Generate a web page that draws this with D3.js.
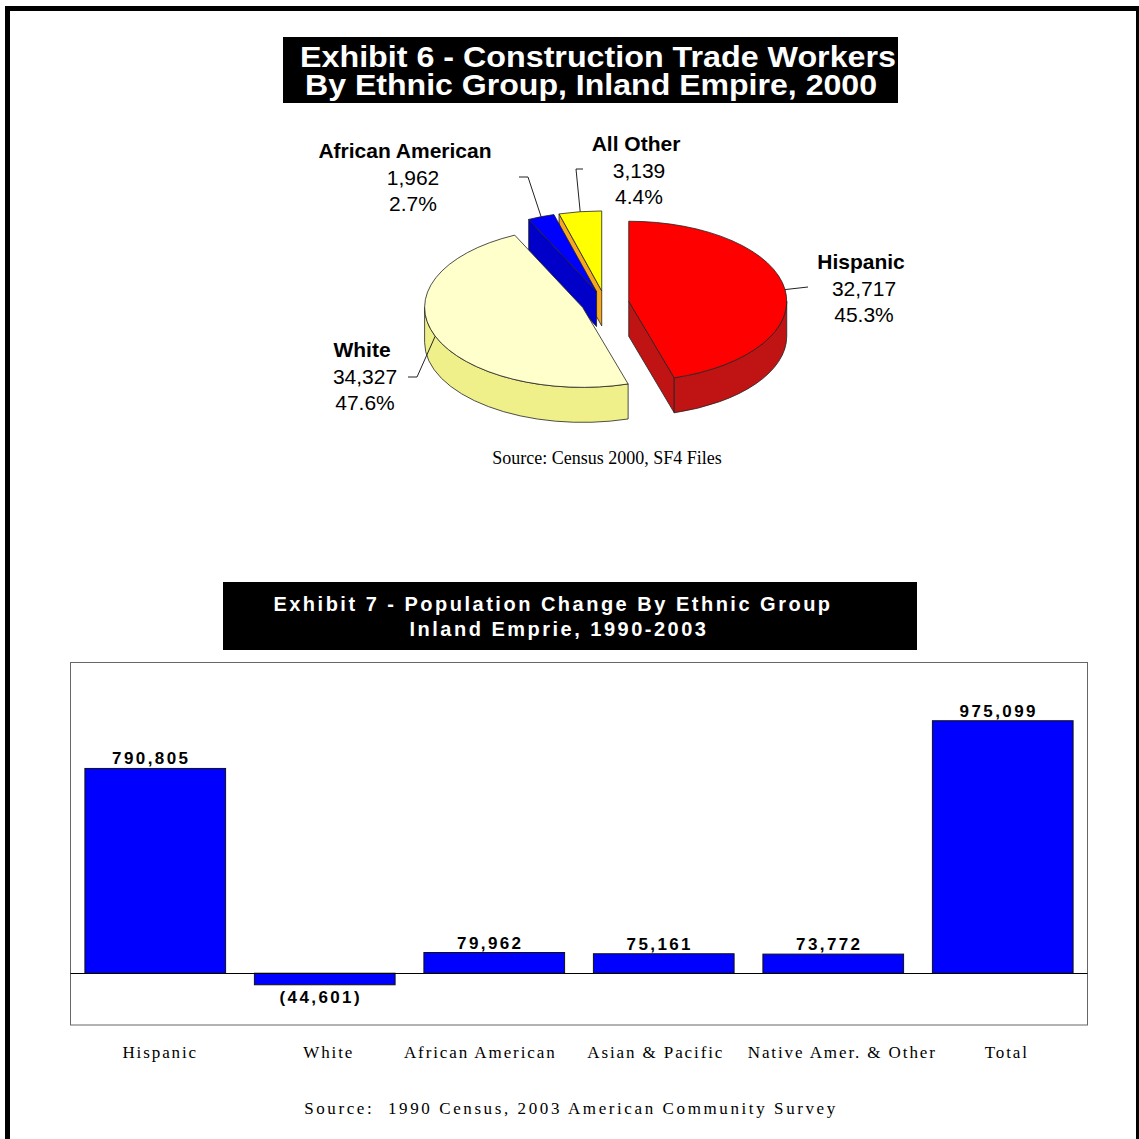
<!DOCTYPE html>
<html><head><meta charset="utf-8">
<script src="https://cdn.jsdelivr.net/npm/d3@7"></script>
<style>body{margin:0;background:#fff}svg{display:block}</style>
</head><body>
<script>
// ---------- DATA ----------
const pieCategories = ["Hispanic", "White", "African American", "All Other"];
const pieValues = [32717, 34327, 1962, 3139];
const barCategories = ["Hispanic", "White", "African American", "Asian & Pacific", "Native Amer. & Other", "Total"];
const barValues = [790805, -44601, 79962, 75161, 73772, 975099];
const barDomain = [-200000, 1200000];
const title1Lines = ["Exhibit 6 - Construction Trade Workers", "By Ethnic Group, Inland Empire, 2000"];
const title2Lines = ["Exhibit 7 - Population Change By Ethnic Group", "Inland Emprie, 1990-2003"];
const source1 = "Source: Census 2000, SF4 Files";
const source2 = "Source:  1990 Census, 2003 American Community Survey";

// ---------- STYLE / LAYOUT ----------
const topColors = {"Hispanic":"#FF0000","White":"#FFFFCC","African American":"#0000FF","All Other":"#FFFF00"};
const sideColors = {"Hispanic":"#C01414","White":"#F0F08A","African American":"#0000C8","All Other":"#F8A81C"};
const pieLabelLayout = {
  "Hispanic": {x:864, y:269, boldDx:-3, elbow:null, tail:[808,287]},
  "White": {x:365, y:357, boldDx:-3, elbow:[417,377], tail:[408,377]},
  "African American": {x:413, y:158, boldDx:-8, elbow:[528,177], tail:[519,177]},
  "All Other": {x:639, y:151, boldDx:-3, elbow:[576,169], tail:[583,169]}
};
const axisLabelDx = [5, 4, -14, -8, 9, 4];
const P = {cx:605, cy:303, rx:158, ry:80, depth:35, explode:24};
const SANS = "Liberation Sans, Arial, sans-serif";
const SERIF = "Liberation Serif, Times New Roman, serif";

const W = 1139, H = 1139;
const svg = d3.select("body").append("svg").attr("width", W).attr("height", H);
svg.append("rect").attr("width", W).attr("height", H).attr("fill", "#fff");
svg.append("path").attr("d", "M7.5,1139V8.5H1138.5V1139")
  .attr("fill", "none").attr("stroke", "#000").attr("stroke-width", 5);

// ---------- TITLE 1 ----------
svg.append("rect").attr("x", 283).attr("y", 37).attr("width", 615).attr("height", 66).attr("fill", "#000");
const t1x = [598, 591], t1y = [67, 95], t1w = [596, 572];
title1Lines.forEach((s, i) => {
  svg.append("text").attr("x", t1x[i]).attr("y", t1y[i]).attr("text-anchor", "middle")
    .attr("font-family", SANS).attr("font-weight", "bold").attr("font-size", 30)
    .attr("textLength", t1w[i]).attr("lengthAdjust", "spacingAndGlyphs")
    .attr("fill", "#fff").text(s);
});

// ---------- PIE ----------
const arcs = d3.pie().sort(null).value(d => d)(pieValues);
const total = d3.sum(pieValues);
const gPie = svg.append("g");
function pt(o, a, dy = 0) { return [o[0] + P.rx * Math.sin(a), o[1] - P.ry * Math.cos(a) + dy]; }
function arcCmd(p, large, sweep) { return `A${P.rx},${P.ry} 0 ${large} ${sweep} ${p[0]},${p[1]}`; }

const order = [3, 2, 1, 0];
const slices = arcs.map((a, i) => {
  const mid = (a.startAngle + a.endAngle) / 2;
  const apex = [P.cx + P.explode * Math.sin(mid), P.cy - P.explode * (P.ry / P.rx) * Math.cos(mid)];
  return {a0: a.startAngle, a1: a.endAngle, mid, apex, cat: pieCategories[i], value: pieValues[i]};
});
order.forEach(i => {
  const s = slices[i];
  const D = P.depth;
  const g = gPie.append("g");
  const stroke = "#222";
  const radial = a => {
    const p = pt(s.apex, a);
    return `M${s.apex[0]},${s.apex[1]}L${p[0]},${p[1]}L${p[0]},${p[1] + D}L${s.apex[0]},${s.apex[1] + D}Z`;
  };
  if (s.a1 > 0.0001 && s.a1 < Math.PI) g.append("path").attr("d", radial(s.a1)).attr("fill", sideColors[s.cat]).attr("stroke", stroke).attr("stroke-width", 0.8);
  if (s.a0 > Math.PI && s.a0 < 2 * Math.PI) g.append("path").attr("d", radial(s.a0)).attr("fill", sideColors[s.cat]).attr("stroke", stroke).attr("stroke-width", 0.8);
  const b0 = Math.max(s.a0, Math.PI / 2), b1 = Math.min(s.a1, 3 * Math.PI / 2);
  if (b1 > b0) {
    const p0 = pt(s.apex, b0), p1 = pt(s.apex, b1);
    const q1 = pt(s.apex, b1, D), q0 = pt(s.apex, b0, D);
    const large = (b1 - b0) > Math.PI ? 1 : 0;
    g.append("path").attr("d", `M${p0[0]},${p0[1]}${arcCmd(p1, large, 1)}L${q1[0]},${q1[1]}${arcCmd(q0, large, 0)}Z`)
      .attr("fill", sideColors[s.cat]).attr("stroke", stroke).attr("stroke-width", 0.8);
  }
  const p0 = pt(s.apex, s.a0), p1 = pt(s.apex, s.a1);
  const large = (s.a1 - s.a0) > Math.PI ? 1 : 0;
  g.append("path").attr("d", `M${s.apex[0]},${s.apex[1]}L${p0[0]},${p0[1]}${arcCmd(p1, large, 1)}Z`)
    .attr("fill", topColors[s.cat]).attr("stroke", stroke).attr("stroke-width", 0.8);
});

const fmtN = d3.format(","), fmtP = d3.format(".1%");
slices.forEach(s => {
  const L = pieLabelLayout[s.cat];
  const e = pt(s.apex, s.mid);
  const pts = [e];
  if (L.elbow) pts.push(L.elbow);
  pts.push(L.tail);
  gPie.append("path").attr("d", d3.line()(pts)).attr("fill", "none").attr("stroke", "#222").attr("stroke-width", 1);
  const lines = [s.cat, fmtN(s.value), fmtP(s.value / total)];
  lines.forEach((t, k) => {
    gPie.append("text").attr("x", L.x + (k === 0 ? L.boldDx : 0)).attr("y", L.y + k * 26.5)
      .attr("text-anchor", "middle").attr("font-family", SANS).attr("font-size", 21)
      .attr("font-weight", k === 0 ? "bold" : "normal").attr("fill", "#000").text(t);
  });
});

svg.append("text").attr("x", 607).attr("y", 464).attr("text-anchor", "middle")
  .attr("font-family", SERIF).attr("font-size", 18).attr("fill", "#000").text(source1);

// ---------- TITLE 2 ----------
svg.append("rect").attr("x", 223).attr("y", 582).attr("width", 694).attr("height", 68).attr("fill", "#000");
const t2x = [553, 559], t2y = [611, 636];
title2Lines.forEach((s, i) => {
  svg.append("text").attr("x", t2x[i]).attr("y", t2y[i]).attr("text-anchor", "middle")
    .attr("font-family", SANS).attr("font-weight", "bold").attr("font-size", 20)
    .attr("letter-spacing", 2.5).attr("fill", "#fff").text(s);
});

// ---------- BAR CHART ----------
const plot = {x0: 70.5, x1: 1087.5, y0: 662.5, y1: 1025};
const x = d3.scaleBand().domain(barCategories).range([plot.x0, plot.x1]).paddingInner(0.17).paddingOuter(0.085);
const y = d3.scaleLinear().domain(barDomain).range([plot.y1, plot.y0]);
svg.append("rect").attr("x", plot.x0).attr("y", plot.y0).attr("width", plot.x1 - plot.x0).attr("height", plot.y1 - plot.y0)
  .attr("fill", "none").attr("stroke", "#666").attr("stroke-width", 1);

const gBars = svg.append("g");
gBars.selectAll("rect").data(barValues).join("rect")
  .attr("x", (d, i) => x(barCategories[i]))
  .attr("y", d => Math.min(y(d), y(0)))
  .attr("width", x.bandwidth())
  .attr("height", d => Math.abs(y(d) - y(0)))
  .attr("fill", "#0000FF").attr("stroke", "#111").attr("stroke-width", 1);

svg.append("line").attr("x1", plot.x0).attr("x2", plot.x1).attr("y1", Math.round(y(0)) + 0.5).attr("y2", Math.round(y(0)) + 0.5)
  .attr("stroke", "#000").attr("stroke-width", 1);

const fmtBar = v => v < 0 ? "(" + d3.format(",")(-v) + ")" : d3.format(",")(v);
gBars.selectAll("text").data(barValues).join("text")
  .attr("x", (d, i) => x(barCategories[i]) + x.bandwidth() / 2 - 4)
  .attr("y", d => d >= 0 ? y(d) - 4 : y(d) + 18)
  .attr("text-anchor", "middle").attr("font-family", SANS).attr("font-weight", "bold")
  .attr("font-size", 17).attr("letter-spacing", 2.4).attr("fill", "#000")
  .text(fmtBar);

const axis = svg.append("g").attr("transform", "translate(0,1058)")
  .call(d3.axisBottom(x).tickSize(0).tickPadding(0));
axis.select(".domain").remove();
axis.selectAll("text").attr("y", 0).attr("dy", 0)
  .attr("x", (d, i) => axisLabelDx[i])
  .attr("font-family", SERIF).attr("font-size", 17).attr("letter-spacing", 1.9).attr("fill", "#000");

svg.append("text").attr("x", 571).attr("y", 1114).attr("text-anchor", "middle")
  .attr("font-family", SERIF).attr("font-size", 17).attr("letter-spacing", 2.6)
  .style("white-space", "pre").attr("fill", "#000").text(source2);
</script>
</body></html>
